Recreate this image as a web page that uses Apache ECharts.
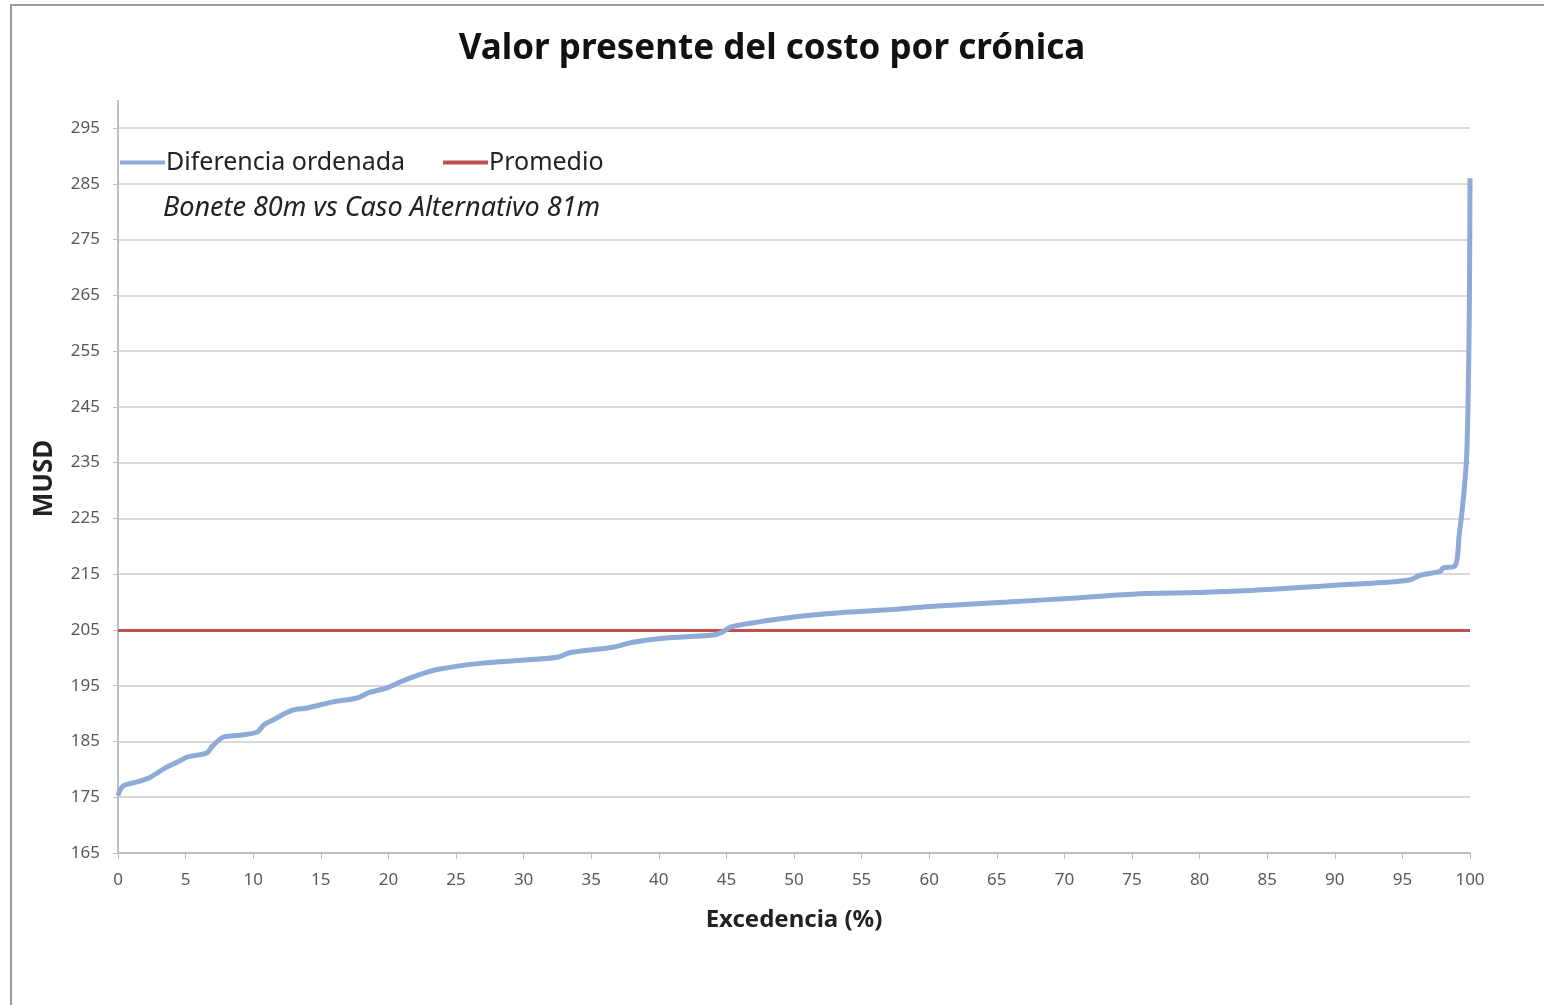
<!DOCTYPE html>
<html>
<head>
<meta charset="utf-8">
<script src="https://cdn.jsdelivr.net/npm/echarts@6/dist/echarts.min.js"></script>
<style>
html,body{margin:0;padding:0;background:#fff;}
#grafico{width:1544px;height:1005px;}
</style>
</head>
<body>
<div id="grafico"></div>
<script>
// excedencia (%) y diferencia ordenada (MUSD)
var excedencia = [0, 0.2, 0.5, 1.5, 2.4, 3.0, 3.6, 4.4, 5.1, 6.0, 6.6, 7.0, 7.8, 9.0, 10.3, 10.8, 11.5, 12.9, 14.0, 15.9,
	17.7, 18.6, 19.9, 21.0, 22.3, 23.8, 26.8, 29.5, 32.5, 33.4, 36.6, 38.1, 40.3, 44.0, 44.7, 45.3, 47.3, 49.0, 51.0, 53.4,
	57.0, 60.0, 65.8, 70.6, 75.6, 80.0, 84.0, 87.4, 90.0, 93.6, 95.6, 96.3, 97.8, 98.0, 98.9, 99.2, 99.4, 99.6, 99.75, 99.85,
	99.95, 100];
var diferencia = [175.3, 176.5, 177.2, 177.8, 178.6, 179.5, 180.4, 181.3, 182.2, 182.6, 183.0, 184.2, 185.8, 186.1, 186.7, 188.0, 188.9, 190.6, 191.0, 192.1,
	192.8, 193.8, 194.6, 195.8, 197.0, 198.0, 199.0, 199.5, 200.1, 200.9, 201.9, 202.8, 203.5, 204.1, 204.6, 205.5, 206.4, 207.0, 207.6, 208.1,
	208.6, 209.2, 210.0, 210.7, 211.5, 211.7, 212.1, 212.6, 213.0, 213.5, 214.0, 214.8, 215.5, 216.1, 216.5, 222.0, 226.0, 231.0, 236.0, 245.0,
	262.0, 286.0];
var promedio = 204.9;

var datos = [];
for (var i = 0; i < excedencia.length; i++) {
	datos.push([excedencia[i], diferencia[i]]);
}

var myChart = echarts.init(document.getElementById('grafico'));

var option = {
	backgroundColor: '#fff',
	animation: false,
	textStyle: { fontFamily: 'Noto Sans' },
	title: [{
		text: 'Valor presente del costo por crónica',
		left: 'center',
		top: 27,
		textStyle: { fontSize: 35, fontWeight: 'bold', color: '#111' }
	}, {
		text: 'Bonete 80m vs Caso Alternativo 81m',
		left: 158,
		top: 190,
		textStyle: { fontSize: 27, fontStyle: 'italic', fontWeight: 'normal', color: '#222' }
	}],
	legend: {
		left: 115,
		top: 145,
		itemWidth: 45,
		itemHeight: 4,
		itemGap: 38,
		icon: 'rect',
		textStyle: { fontSize: 25, color: '#222', padding: [0, 0, 0, -4] },
		data: ['Diferencia ordenada', 'Promedio']
	},
	grid: { left: 118, right: 74, top: 128, bottom: 152 },
	xAxis: {
		type: 'value',
		min: 0,
		max: 100,
		interval: 5,
		name: 'Excedencia (%)',
		nameLocation: 'middle',
		nameGap: 55,
		nameTextStyle: { fontSize: 24, fontWeight: 'bold', color: '#222' },
		axisLine: { lineStyle: { color: '#bfbfbf', width: 2 } },
		axisTick: { show: true, length: 6, lineStyle: { color: '#bfbfbf' } },
		axisLabel: { fontSize: 17, color: '#595959', margin: 19 },
		splitLine: { show: false }
	},
	yAxis: {
		type: 'value',
		min: 165,
		max: 295,
		interval: 10,
		name: 'MUSD',
		nameLocation: 'middle',
		nameGap: 60,
		nameTextStyle: { fontSize: 26, fontWeight: 'bold', color: '#222', padding: [0, 0, 0, 24] },
		axisLine: { show: true, lineStyle: { color: '#bfbfbf', width: 2 } },
		axisTick: { show: true, length: 5, lineStyle: { color: '#bfbfbf' } },
		axisLabel: { fontSize: 17, color: '#595959', margin: 18 },
		splitLine: { lineStyle: { color: '#d9d9d9', width: 2 } }
	},
	series: [{
		name: 'Diferencia ordenada',
		type: 'line',
		data: datos,
		showSymbol: false,
		symbol: 'none',
		smooth: 0.3,
		color: '#8eaad6',
		lineStyle: { width: 5, color: '#8eaad6' },
		z: 3
	}, {
		name: 'Promedio',
		type: 'line',
		data: [[0, promedio], [100, promedio]],
		symbol: 'none',
		color: '#c0504d',
		lineStyle: { width: 3, color: '#c0504d' },
		z: 2
	}],
	graphic: [{
		type: 'polyline',
		shape: { points: [[11, 1010], [11, 5], [1550, 5]] },
		style: { stroke: '#9a9a9a', lineWidth: 2, fill: null }
	}, {
		// el eje vertical sobresale un poco por encima del area de trazado
		type: 'line',
		shape: { x1: 118, y1: 100, x2: 118, y2: 128 },
		style: { stroke: '#bfbfbf', lineWidth: 2 }
	}]
};

myChart.setOption(option);
</script>
</body>
</html>
